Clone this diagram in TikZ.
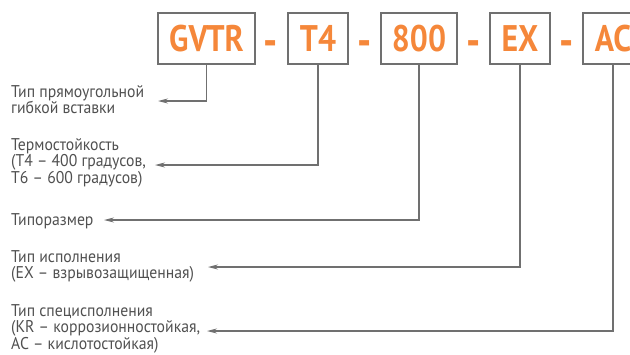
\documentclass[tikz,border=0pt]{standalone}
\usepackage{fontspec}
\setmainfont{PT Sans}[FakeStretch=0.925]
\newfontfamily\codefont{PT Sans}[FakeStretch=0.86]
\usetikzlibrary{arrows.meta,positioning}
\definecolor{codeorange}{HTML}{F5873A}
\definecolor{framegray}{HTML}{707070}
\definecolor{textgray}{HTML}{505050}
\tikzset{
  codebox/.style={draw=framegray,line width=1.4pt,minimum height=51pt,inner sep=0pt,
    text height=26pt,text depth=0pt,text=codeorange,font=\codefont\bfseries\fontsize{37}{37}\selectfont},
  sep/.style={anchor=base,inner sep=0pt,text=codeorange,font=\codefont\bfseries\fontsize{46}{46}\selectfont},
  desc/.style={anchor=base west,align=left,inner sep=0pt,text=textgray,font=\fontsize{17}{16.5}\selectfont},
  lead/.style={draw=framegray,line width=1.2pt,-{Stealth[length=10pt,width=5pt]}}
}

\begin{document}
\begin{tikzpicture}[x=1pt,y=-1pt]
  \useasboundingbox (0,0) rectangle (630,354);
  \clip (0,0) rectangle (630,354);
  % code boxes
  \node[codebox,minimum width=97pt] (gvtr) at (206.5,38.5) {GVTR};
  \node[codebox,minimum width=60pt] (tfour) at (318,38.5) {T4};
  \node[codebox,minimum width=76pt] (size) at (419,38.5) {800};
  \node[codebox,minimum width=60pt] (exec) at (520,38.5) {EX};
  \node[codebox,minimum width=60pt] (spec) at (613,38.5) {AC};
  \node[sep] (d1) at (271,56) {-};
  \node[sep] (d2) at (364.5,56) {-};
  \node[sep] (d3) at (474,56) {-};
  \node[sep] (d4) at (567,56) {-};
  % descriptions (anchored at the last baseline)
  \node[desc] (typeTxt) at (11,113.5) {Тип прямоугольной\\гибкой вставки};
  \node[desc] (heatTxt) at (11,183) {Термостойкость\\(T4 – 400 градусов,\\T6 – 600 градусов)};
  \node[desc] (sizeTxt) at (11,225) {Типоразмер};
  \node[desc] (execTxt) at (11,278.5) {Тип исполнения\\(EX – взрывозащищенная)};
  \node[desc] (specTxt) at (11,349) {Тип специсполнения\\(KR – коррозионностойкая,\\AC – кислотостойкая)};
  \coordinate (tipType) at (158,101);
  \coordinate (tipHeat) at (155,165);
  \coordinate (tipSize) at (104,220);
  \coordinate (tipExec) at (208,267);
  \coordinate (tipSpec) at (207,331);
  % leaders
  \draw[lead] (gvtr.south) |- (tipType);
  \draw[lead] (tfour.south) |- (tipHeat);
  \draw[lead] (size.south) |- (tipSize);
  \draw[lead] (exec.south) |- (tipExec);
  \draw[lead] (spec.south) |- (tipSpec);
\end{tikzpicture}
\end{document}
